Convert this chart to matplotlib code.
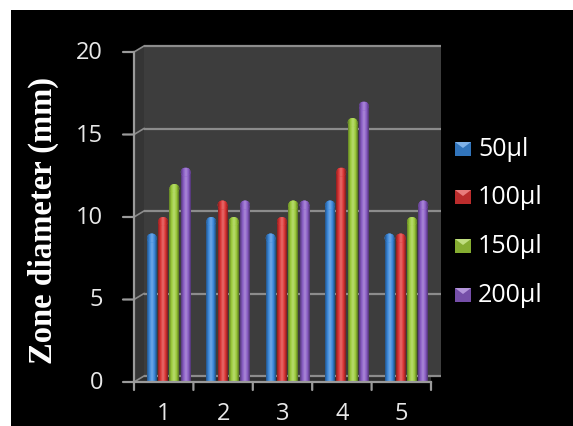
import numpy as np
import matplotlib
matplotlib.use("Agg")
import matplotlib.pyplot as plt
from matplotlib.patches import Polygon, Rectangle, Ellipse
from matplotlib.colors import LinearSegmentedColormap, to_rgb
import matplotlib.transforms as mtransforms

# ---- data ----
categories = ["1", "2", "3", "4", "5"]
series_names = ["50\u00b5l", "100\u00b5l", "150\u00b5l", "200\u00b5l"]
v50 = [9, 10, 9, 11, 9]
v100 = [10, 11, 10, 13, 9]
v150 = [12, 10, 11, 16, 10]
v200 = [13, 11, 11, 17, 11]
y_ticks = [0, 5, 10, 15, 20]
y_label = "Zone diameter (mm)"

series_values = [v50, v100, v150, v200]
colors = ["#3a88dc", "#dc3434", "#9ccc3a", "#8a5cc6"]

W, H, DPI = 5.73, 4.27, 100
fig = plt.figure(figsize=(W, H), dpi=DPI, facecolor="black")

# thin white margin along the top and left edges
fig.patches.append(Rectangle((0, 1 - 11 / 427), 1, 11 / 427, transform=fig.transFigure,
                             facecolor="white", edgecolor="none", zorder=0))
fig.patches.append(Rectangle((0, 0), 11 / 573, 1, transform=fig.transFigure,
                             facecolor="white", edgecolor="none", zorder=0))

# front axes frame (pixels): x 134..431, y value 0 at 383, 20 at 53
left_px, right_px = 134, 431
y0_px, y20_px = 383, 53
ymax = 20.4
px_per_unit = (y0_px - y20_px) / 20
top_px = y0_px - ymax * px_per_unit
ax = fig.add_axes([left_px / 573, (427 - y0_px) / 427,
                   (right_px - left_px) / 573, (y0_px - top_px) / 427])
ax.set_facecolor("none")
ax.set_xlim(0.5, 5.5)
ax.set_ylim(0, ymax)
for s in ax.spines.values():
    s.set_visible(False)
ax.set_xticks([])
ax.set_yticks([])

# depth offset of the back wall, in pixels
dx, dy = 10, 6
back = ax.transData + mtransforms.ScaledTranslation(dx / DPI, dy / DPI,
                                                    fig.dpi_scale_trans)

wall_col = "#3d3d3d"
side_col = "#353535"
floor_col = "#2e2e2e"
grid_col = "#8c8c8c"

# back wall, side wall and floor
ax.add_patch(Rectangle((0.5, 0), 5.0, 20, transform=back, facecolor=wall_col,
                       edgecolor="none", zorder=0, clip_on=False))
fc = ax.transData
p_front_bot = fc.transform((0.5, 0)); p_front_top = fc.transform((0.5, 20))
p_back_bot = back.transform((0.5, 0)); p_back_top = back.transform((0.5, 20))
ax.add_patch(Polygon([p_front_bot, p_front_top, p_back_top, p_back_bot], closed=True,
                     transform=None, facecolor=side_col, edgecolor="none", zorder=0))
f_right = fc.transform((5.5, 0)); b_right = back.transform((5.5, 0))
ax.add_patch(Polygon([p_front_bot, f_right, b_right, p_back_bot], closed=True,
                     transform=None, facecolor=floor_col, edgecolor="none", zorder=0))

# gridlines on the back wall, plus diagonal connectors on the side wall
for t in y_ticks:
    ax.plot([0.5, 5.5], [t, t], transform=back, color=grid_col, lw=1.6, zorder=1,
            clip_on=False, solid_capstyle="butt")
    a = fc.transform((0.5, t)); b = back.transform((0.5, t))
    ax.add_line(plt.Line2D([a[0], b[0]], [a[1], b[1]], transform=None, color=grid_col,
                           lw=1.2, zorder=1))

# front axis lines and ticks
axis_col = "#9a9a9a"
tick_font = dict(color="#e8e8e8", fontsize=17, family="Open Sans")
ax.plot([0.5, 0.5], [0, 20], color=axis_col, lw=1.6, clip_on=False, zorder=5)
ax.plot([0.5, 5.5], [0, 0], color=axis_col, lw=1.6, clip_on=False, zorder=5)
for t in y_ticks:
    ax.annotate("", xy=(0.5, t), xytext=(-11, 0), textcoords="offset pixels",
                arrowprops=dict(arrowstyle="-", color=axis_col, lw=1.6,
                                shrinkA=0, shrinkB=0))
    ax.annotate(str(t), xy=(0.5, t), xytext=(-31, 0), textcoords="offset pixels",
                ha="right", va="center", **tick_font)
for i in range(len(categories) + 1):
    ax.annotate("", xy=(0.5 + i, 0), xytext=(0, -8), textcoords="offset pixels",
                arrowprops=dict(arrowstyle="-", color=axis_col, lw=1.6,
                                shrinkA=0, shrinkB=0))
for i, c in enumerate(categories):
    ax.annotate(c, xy=(i + 1, 0), xytext=(0, -31), textcoords="offset pixels",
                ha="center", va="center", **tick_font)


def shade_cmap(col):
    r = np.array(to_rgb(col))
    dark = r * 0.62
    light = np.clip(r + (1 - r) * 0.28, 0, 1)
    return LinearSegmentedColormap.from_list("s", [dark, r, light, r, dark * 0.9])


# cylindrical bars with rounded tops reaching the value
x = np.arange(1, len(categories) + 1)
bw = 0.165
step = 0.19
shift = 0.085
cap_h = 9 / px_per_unit
grad = np.linspace(0, 1, 64).reshape(1, -1)
for k, (vals, col) in enumerate(zip(series_values, colors)):
    xs = x + shift + (k - 1.5) * step
    body = [v - cap_h / 2 for v in vals]
    bars = ax.bar(xs, body, width=bw, color=col, edgecolor="none", zorder=3)
    cm = shade_cmap(col)
    for rect, v in zip(bars, vals):
        x0 = rect.get_x()
        hb = rect.get_height()
        im = ax.imshow(grad, cmap=cm, aspect="auto", extent=[x0, x0 + bw, 0, hb],
                       zorder=3.1, interpolation="bilinear")
        im.set_clip_path(rect)
        cap = Ellipse((x0 + bw / 2, hb), bw, cap_h, facecolor=col, edgecolor="none",
                      zorder=3.2)
        ax.add_patch(cap)
        im2 = ax.imshow(grad, cmap=cm, aspect="auto",
                        extent=[x0, x0 + bw, hb - cap_h / 2, v],
                        zorder=3.3, interpolation="bilinear")
        im2.set_clip_path(cap)
ax.set_xlim(0.5, 5.5)
ax.set_ylim(0, ymax)

# y axis title
fig.text(43 / 573, 1 - 220 / 427, y_label, rotation=90, ha="center", va="center",
         color="white", fontsize=23.5, fontweight="bold", family="Liberation Serif")

# legend
leg_y = [150, 198, 247, 296]
for name, col, yp in zip(series_names, colors, leg_y):
    r = np.array(to_rgb(col))
    fig.patches.append(Rectangle((455 / 573, 1 - (yp + 7) / 427), 16 / 573, 14 / 427,
                                 transform=fig.transFigure, facecolor=r * 0.85,
                                 edgecolor="none"))
    fig.patches.append(Polygon([[455 / 573, 1 - (yp - 7) / 427],
                                [471 / 573, 1 - (yp - 7) / 427],
                                [463 / 573, 1 - (yp - 1) / 427]],
                               closed=True, transform=fig.transFigure,
                               facecolor=np.clip(r + (1 - r) * 0.35, 0, 1),
                               edgecolor="none"))
    fig.text(478 / 573, 1 - yp / 427, name, ha="left", va="center", color="white",
             fontsize=18, family="Open Sans")

fig.savefig("out.png", dpi=DPI, facecolor=fig.get_facecolor())
